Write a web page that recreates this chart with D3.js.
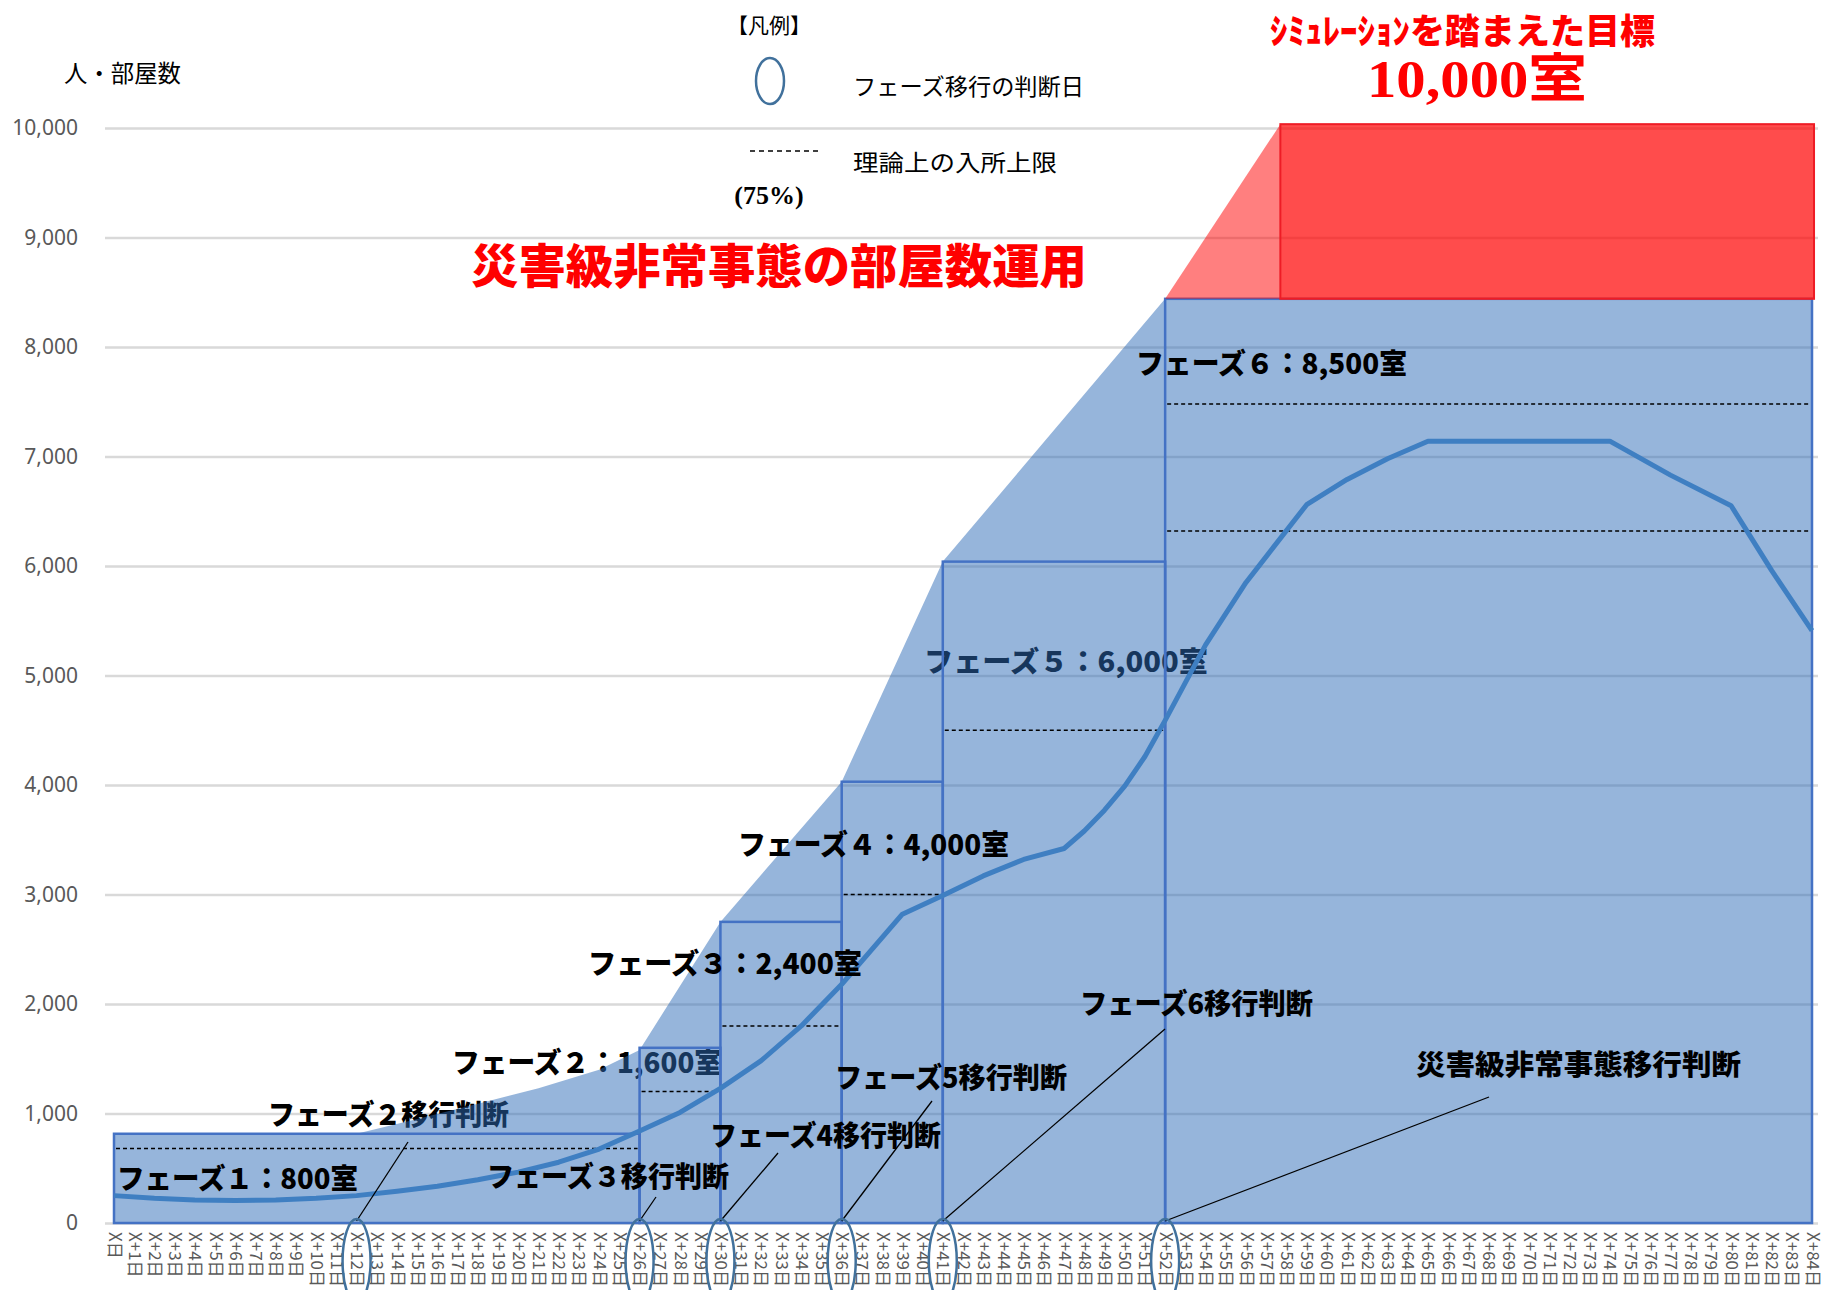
<!DOCTYPE html>
<html>
<head>
<meta charset="utf-8">
<script src="https://cdn.jsdelivr.net/npm/d3@7/dist/d3.min.js"></script>
<style>
body { margin: 0; background: #fff; }
svg { display: block; }
text { font-family: "Noto Sans CJK JP", "Noto Sans", sans-serif; }
</style>
</head>
<body>
<div id="chart"></div>
<script>
// category axis: X日 ... X+84日
var days = d3.range(0, 85);
var dayLabels = days.map(function(d) { return d === 0 ? "X日" : "X+" + d + "日"; });
var yTicks = [0, 1000, 2000, 3000, 4000, 5000, 6000, 7000, 8000, 9000, 10000];

// phase boxes (start day, end day, rooms)
var phaseStart = [0, 26, 30, 36, 41, 52];
var phaseEnd   = [26, 30, 36, 41, 52, 84];
var phaseRooms = [815, 1600, 2750, 4030, 6040, 8440];

// theoretical limit lines (75%)
var capStart = [0, 26, 30, 36, 41, 52, 52];
var capEnd   = [26, 30, 36, 41, 52, 84, 84];
var capRooms = [680, 1200, 1800, 3000, 4500, 6320, 7480];

// outer room envelope
var envDays  = [0, 12, 15, 18, 21, 24, 26, 30, 36, 41, 52, 84];
var envRooms = [815, 815, 950, 1090, 1230, 1400, 1580, 2750, 4030, 6040, 8440, 8440];

// simulation target block
var targetDays  = [52, 57.7, 84.1];
var targetRooms = [8440, 10035];

// occupancy line
var occDays  = [0, 2, 4, 6, 8, 10, 12, 14, 16, 18, 20, 22, 24, 26, 28, 30, 32, 34, 36, 39, 41, 43, 45, 47, 48, 49, 50, 51, 52, 54, 56, 59, 61, 63, 65, 74, 77, 80, 82, 84];
var occRooms = [250, 225, 210, 205, 210, 225, 250, 290, 335, 395, 465, 555, 675, 840, 1010, 1230, 1480, 1800, 2180, 2820, 2990, 3170, 3320, 3420, 3580, 3770, 3990, 4260, 4590, 5280, 5850, 6560, 6790, 6980, 7140, 7140, 6830, 6550, 5960, 5410];

// decision days (circled on the axis)
var decisionDays = [12, 26, 30, 36, 41, 52];

var W = 1827, H = 1290;
var svg = d3.select("#chart").append("svg").attr("width", W).attr("height", H);

var x = d3.scaleLinear().domain([0, 84]).range([114, 1812]);
var xCat = d3.scalePoint().domain(dayLabels).range([114, 1812]);
var y = d3.scaleLinear().domain([0, 10000]).range([1223, 128]);

//grid + y labels
var yAxis = svg.append("g")
    .attr("transform", "translate(105,0)")
    .call(d3.axisLeft(y).tickValues(yTicks).tickFormat(d3.format(",")).tickSize(-(1818 - 105)).tickPadding(27));
yAxis.select(".domain").remove();
yAxis.selectAll("line").attr("stroke", "#d9d9d9").attr("stroke-width", 2.5);
yAxis.selectAll("text").attr("fill", "#595959").style("font-family", "'Noto Sans', sans-serif").style("font-size", "21px");

// annotation labels; "under" ones are tinted by the translucent area
var labels = [
    {t: "フェーズ２移行判断", x: 268, y: 1125, w: 241, under: true},
    {t: "フェーズ２：1,600室", x: 452, y: 1073, w: 270, under: true},
    {t: "フェーズ５：6,000室", x: 924, y: 672, w: 284, under: true},
    {t: "フェーズ１：800室", x: 117, y: 1189, w: 241},
    {t: "フェーズ３移行判断", x: 487, y: 1187, w: 242},
    {t: "フェーズ３：2,400室", x: 588, y: 974, w: 274},
    {t: "フェーズ４：4,000室", x: 738, y: 855, w: 271},
    {t: "フェーズ６：8,500室", x: 1136, y: 374, w: 271},
    {t: "フェーズ4移行判断", x: 710, y: 1146, w: 231},
    {t: "フェーズ5移行判断", x: 835, y: 1088, w: 232},
    {t: "フェーズ6移行判断", x: 1080, y: 1014, w: 233},
    {t: "災害級非常事態移行判断", x: 1416, y: 1075, w: 325}
];

function drawLabels(list) {
    svg.append("g").selectAll("text").data(list).enter().append("text")
        .attr("x", function(d) { return d.x; })
        .attr("y", function(d) { return d.y; })
        .attr("textLength", function(d) { return d.w; })
        .attr("lengthAdjust", "spacingAndGlyphs")
        .attr("font-size", 28)
        .attr("font-weight", 900)
        .attr("fill", "#000")
        .text(function(d) { return d.t; });
}
drawLabels(labels.filter(function(d) { return d.under; }));

// envelope area
var envPts = envDays.map(function(d, i) { return [d, envRooms[i]]; });
svg.append("path")
    .datum(envPts)
    .attr("d", d3.area().x(function(d) { return x(d[0]); }).y0(y(0)).y1(function(d) { return y(d[1]); }))
    .attr("fill", "#2e6cb8")
    .attr("fill-opacity", 0.5);

// phase boxes
svg.append("g").selectAll("rect").data(phaseRooms).enter().append("rect")
    .attr("x", function(d, i) { return x(phaseStart[i]); })
    .attr("y", function(d) { return y(d); })
    .attr("width", function(d, i) { return x(phaseEnd[i]) - x(phaseStart[i]); })
    .attr("height", function(d) { return y(0) - y(d); })
    .attr("fill", "none")
    .attr("stroke", "#4472c4")
    .attr("stroke-width", 2.5);

// 75% lines
svg.append("g").selectAll("line").data(capRooms).enter().append("line")
    .attr("x1", function(d, i) { return x(capStart[i]) + 2; })
    .attr("x2", function(d, i) { return x(capEnd[i]) - 2; })
    .attr("y1", function(d) { return y(d); })
    .attr("y2", function(d) { return y(d); })
    .attr("stroke", "#000")
    .attr("stroke-width", 1.5)
    .attr("stroke-dasharray", "4,3");

// occupancy line
var occPts = occDays.map(function(d, i) { return [d, occRooms[i]]; });
svg.append("path")
    .datum(occPts)
    .attr("d", d3.line().x(function(d) { return x(d[0]); }).y(function(d) { return y(d[1]); }))
    .attr("fill", "none")
    .attr("stroke", "#3f7fc2")
    .attr("stroke-width", 5)
    .attr("stroke-linejoin", "round");

// target (red)
svg.append("path")
    .attr("d", "M" + x(targetDays[0]) + "," + y(targetRooms[0]) +
               "L" + x(targetDays[1]) + "," + y(targetRooms[1]) +
               "L" + x(targetDays[1]) + "," + y(targetRooms[0]) + "Z")
    .attr("fill", "#ff0000")
    .attr("fill-opacity", 0.5);
svg.append("rect")
    .attr("x", x(targetDays[1]))
    .attr("y", y(targetRooms[1]))
    .attr("width", x(targetDays[2]) - x(targetDays[1]))
    .attr("height", y(targetRooms[0]) - y(targetRooms[1]))
    .attr("fill", "#ff0000")
    .attr("fill-opacity", 0.7)
    .attr("stroke", "#ee1c25")
    .attr("stroke-width", 2);

drawLabels(labels.filter(function(d) { return !d.under; }));

// leader lines
var leaderFrom = [[408, 1142], [656, 1197], [778, 1153], [932, 1101], [1165, 1029], [1489, 1097]];
svg.append("g").selectAll("line").data(decisionDays).enter().append("line")
    .attr("x1", function(d, i) { return leaderFrom[i][0]; })
    .attr("y1", function(d, i) { return leaderFrom[i][1]; })
    .attr("x2", function(d) { return x(d); })
    .attr("y2", y(0) - 2)
    .attr("stroke", "#000")
    .attr("stroke-width", 1.3);

// x axis labels (vertical)
var xAxis = svg.append("g")
    .attr("transform", "translate(0,1228)")
    .call(d3.axisBottom(xCat).tickSize(0).tickPadding(0));
xAxis.select(".domain").remove();
xAxis.selectAll(".tick text")
    .attr("transform", "rotate(90)")
    .attr("x", 4)
    .attr("y", 0)
    .attr("dy", "0.35em")
    .attr("text-anchor", "start")
    .attr("fill", "#595959")
    .style("font-family", "'Noto Sans CJK JP', sans-serif")
    .style("font-size", "17px");

// decision circles
svg.append("g").selectAll("ellipse").data(decisionDays).enter().append("ellipse")
    .attr("cx", function(d) { return x(d); })
    .attr("cy", 1261)
    .attr("rx", 14)
    .attr("ry", 42)
    .attr("fill", "none")
    .attr("stroke", "#41719c")
    .attr("stroke-width", 2.5);

// axis title
svg.append("text").attr("x", 64).attr("y", 82).attr("font-size", 24)
    .attr("textLength", 117).attr("lengthAdjust", "spacingAndGlyphs")
    .text("人・部屋数");

// legend
svg.append("text").attr("x", 769).attr("y", 33).attr("font-size", 21).attr("text-anchor", "middle").text("【凡例】");
svg.append("ellipse").attr("cx", 770).attr("cy", 81).attr("rx", 14).attr("ry", 23)
    .attr("fill", "none").attr("stroke", "#41719c").attr("stroke-width", 2.5);
svg.append("text").attr("x", 853).attr("y", 95).attr("font-size", 23)
    .attr("textLength", 231).attr("lengthAdjust", "spacingAndGlyphs")
    .text("フェーズ移行の判断日");
svg.append("line").attr("x1", 750).attr("x2", 821).attr("y1", 151).attr("y2", 151)
    .attr("stroke", "#000").attr("stroke-width", 1.3).attr("stroke-dasharray", "5,4");
svg.append("text").attr("x", 853).attr("y", 171).attr("font-size", 23)
    .attr("textLength", 204).attr("lengthAdjust", "spacingAndGlyphs")
    .text("理論上の入所上限");
svg.append("text").attr("x", 769).attr("y", 204).attr("font-size", 26).attr("text-anchor", "middle")
    .attr("font-weight", "bold").style("font-family", "'Liberation Serif', serif")
    .text("(75%)");

// red headings
svg.append("text").attr("x", 471).attr("y", 283).attr("font-size", 47).attr("font-weight", 900)
    .attr("fill", "#ff0000").attr("textLength", 616).attr("lengthAdjust", "spacingAndGlyphs")
    .text("災害級非常事態の部屋数運用");
svg.append("text").attr("x", 1270).attr("y", 44).attr("font-size", 35).attr("font-weight", 900)
    .attr("fill", "#ff0000").attr("textLength", 385).attr("lengthAdjust", "spacingAndGlyphs")
    .text("ｼﾐｭﾚｰｼｮﾝを踏まえた目標");
svg.append("text").attr("x", 1367).attr("y", 97).attr("font-size", 52).attr("font-weight", "bold")
    .attr("fill", "#ff0000").attr("textLength", 220).attr("lengthAdjust", "spacingAndGlyphs")
    .style("font-family", "'Liberation Serif', 'Noto Sans CJK JP', serif")
    .text("10,000室");
</script>
</body>
</html>
